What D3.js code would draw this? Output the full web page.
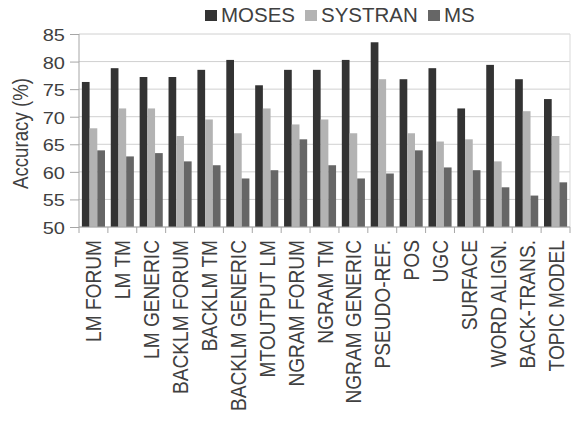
<!DOCTYPE html>
<html>
<head>
<meta charset="utf-8">
<script src="https://cdn.jsdelivr.net/npm/d3@7"></script>
<style>
  body { margin: 0; background: #fff; }
  text { font-family: "Liberation Sans", Arial, sans-serif; fill: #404040; }
</style>
</head>
<body>
<svg id="chart" width="572" height="428" viewBox="0 0 572 428"></svg>
<script>
const categories = [
  "LM FORUM", "LM TM", "LM GENERIC", "BACKLM FORUM", "BACKLM TM",
  "BACKLM GENERIC", "MTOUTPUT LM", "NGRAM FORUM", "NGRAM TM",
  "NGRAM GENERIC", "PSEUDO-REF.", "POS", "UGC", "SURFACE",
  "WORD ALIGN.", "BACK-TRANS.", "TOPIC MODEL"
];
const seriesNames = ["MOSES", "SYSTRAN", "MS"];
const moses = [76.3, 78.8, 77.2, 77.2, 78.5, 80.3, 75.7, 78.5, 78.5, 80.3, 83.5, 76.8, 78.8, 71.5, 79.4, 76.8, 73.2];
const systran = [67.9, 71.5, 71.5, 66.5, 69.5, 67.0, 71.5, 68.6, 69.5, 67.0, 76.8, 67.0, 65.5, 65.9, 61.9, 71.0, 66.5];
const ms = [63.9, 62.8, 63.4, 61.9, 61.2, 58.8, 60.3, 65.9, 61.2, 58.8, 59.7, 63.9, 60.8, 60.3, 57.2, 55.7, 58.1];
const yTicks = [50, 55, 60, 65, 70, 75, 80, 85];
const colors = ["#333333", "#b3b3b3", "#666666"];

const margins = { left: 79, right: 2, top: 34, bottom: 201 };
const svgWidth = 572, svgHeight = 428;
const width = svgWidth - margins.left - margins.right;
const height = svgHeight - margins.top - margins.bottom;

// the picture is slightly squashed vertically, text follows that
const squash = 0.85;

const seriesValues = [moses, systran, ms];
// one entry per bar
const longData = seriesNames.flatMap((s, si) =>
  categories.map((c, ci) => ({ category: c, group: s, value: seriesValues[si][ci] }))
);

const xScale = d3.scaleBand().domain(categories).range([0, width]).padding(0);
const xzScale = d3.scaleBand()
  .domain(seriesNames)
  .range([xScale.bandwidth() * 0.1, xScale.bandwidth() * 0.9])
  .padding(0);
const yScale = d3.scaleLinear().domain([50, 85]).range([height, 0]);
const colScale = d3.scaleOrdinal().domain(seriesNames).range(colors);

const svg = d3.select("#chart");
const g = svg.append("g").attr("transform", `translate(${margins.left} ${margins.top})`);

// gridlines
g.append("g")
  .selectAll("line")
  .data(yTicks)
  .enter()
  .append("line")
  .attr("x1", 0)
  .attr("x2", width)
  .attr("y1", (d) => yScale(d))
  .attr("y2", (d) => yScale(d))
  .style("stroke", "#d0d0d0")
  .style("stroke-width", 1);

// right edge
g.append("line")
  .attr("x1", width).attr("x2", width)
  .attr("y1", 0).attr("y2", height)
  .style("stroke", "#d9d9d9");

// bars
g.append("g")
  .selectAll("rect")
  .data(longData)
  .enter()
  .append("rect")
  .attr("x", (d) => xScale(d.category) + xzScale(d.group))
  .attr("y", (d) => yScale(d.value))
  .attr("width", xzScale.bandwidth())
  .attr("height", (d) => yScale(50) - yScale(d.value))
  .attr("fill", (d) => colScale(d.group));

// y axis
const yAxis = d3.axisLeft(yScale).tickValues(yTicks).tickSize(9).tickFormat(() => "");
const yAxisG = g.append("g").call(yAxis);
yAxisG.select("path").style("stroke", "#a6a6a6").attr("d", `M0,0V${height}`);
yAxisG.selectAll("line").style("stroke", "#a6a6a6");

g.append("g")
  .selectAll("text")
  .data(yTicks)
  .enter()
  .append("text")
  .attr("transform", (d) => `translate(-14 ${yScale(d) + 7}) scale(1 ${squash})`)
  .style("text-anchor", "end")
  .style("font-size", "20px")
  .text((d) => d);

// x axis: ticks between categories
const xAxisG = g.append("g").attr("transform", `translate(0 ${height})`);
xAxisG.append("line")
  .attr("x1", 0).attr("x2", width)
  .style("stroke", "#a6a6a6");
xAxisG.selectAll("line.tick")
  .data(d3.range(categories.length + 1))
  .enter()
  .append("line")
  .attr("class", "tick")
  .attr("x1", (i) => i * xScale.step())
  .attr("x2", (i) => i * xScale.step())
  .attr("y1", 0)
  .attr("y2", 6)
  .style("stroke", "#a6a6a6");

xAxisG.selectAll("text")
  .data(categories)
  .enter()
  .append("text")
  .attr("transform", (d) =>
    `translate(${xScale(d) + xScale.bandwidth() / 2 + 8} 13) rotate(-90) scale(${squash} 1)`)
  .style("text-anchor", "end")
  .style("font-size", "22.5px")
  .text((d) => d);

// y title
svg.append("text")
  .attr("transform", `translate(28 ${margins.top + height / 2 + 3}) rotate(-90) scale(${squash} 1)`)
  .style("text-anchor", "middle")
  .style("font-size", "22px")
  .text("Accuracy (%)");

// legend
const legendG = svg.append("g").attr("transform", "translate(205 10)");
const legendOffsets = [0, 100, 223];
const legendGrps = legendG.selectAll("g")
  .data(seriesNames)
  .enter()
  .append("g")
  .attr("transform", (d, i) => `translate(${legendOffsets[i]} 0)`);
legendGrps.append("rect")
  .attr("x", 0).attr("y", 0)
  .attr("width", 12).attr("height", 11)
  .attr("fill", (d) => colScale(d));
legendGrps.append("text")
  .attr("x", 16)
  .attr("y", 12)
  .style("font-size", "20.5px")
  .text((d) => d);
</script>
</body>
</html>
